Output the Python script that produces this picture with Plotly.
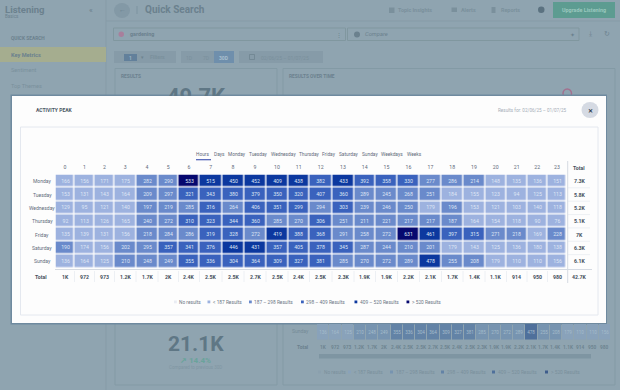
import plotly.graph_objects as go

hours = [str(h) for h in range(24)]
days = ["Monday", "Tuesday", "Wednesday", "Thursday", "Friday", "Saturday", "Sunday"]
monday = [166,156,171,175,282,290,533,515,450,452,409,438,382,433,392,358,330,277,286,214,148,135,136,151]
tuesday = [153,131,143,164,209,297,321,343,380,379,350,320,407,360,289,245,268,251,184,155,123,94,125,113]
wednesday = [129,95,121,140,197,219,285,316,264,406,351,299,294,303,239,246,250,179,196,153,121,103,140,118]
thursday = [92,113,126,165,240,272,310,323,344,360,285,270,306,251,211,221,217,217,187,164,154,118,90,76]
friday = [135,139,131,156,218,284,286,319,328,272,419,388,368,291,258,272,631,461,397,315,271,218,169,228]
saturday = [190,174,156,202,295,357,341,376,446,431,357,405,378,345,287,244,210,201,179,143,125,136,180,138]
sunday = [136,164,125,210,248,249,355,336,304,364,309,327,381,285,270,272,289,478,255,208,179,110,110,156]
hour_totals = ["1K","972","973","1.2K","1.7K","2K","2.4K","2.5K","2.5K","2.7K","2.5K","2.4K","2.5K","2.3K","1.9K","1.9K","2.2K","2.1K","1.7K","1.4K","1.1K","914","950","980"]
day_totals = ["7.3K","5.8K","5.2K","5.1K","7K","6.3K","6.1K"]
grand_total = "42.7K"
tabs = ["Hours","Days","Monday","Tuesday","Wednesday","Thursday","Friday","Saturday","Sunday","Weekdays","Weeks"]
legend_labels = ["No results","< 187 Results","187 – 298 Results","298 – 409 Results","409 – 520 Results","> 520 Results"]
thresholds = [187, 298, 409, 520]

# layout-only settings
W, H = 620, 390
FONT = "Roboto, Arial, sans-serif"
column_widths = [19,20,20,21.5,22,20.5,21,22.5,22,22,22,21.5,22.5,22,21.5,22,22,22,21.5,22,21.5,20.5,20.5,19]
edges = [0.0]
for w in column_widths:
    edges.append(edges[-1] + w)
centers = [(edges[i] + edges[i+1]) / 2 for i in range(24)]
GRID_L, GRID_R, GRID_T, GRID_B = 55.5, 566.5, 174.5, 268.0
BG = "#8fa4b0"; BG_TXT = "#6b818e"; BG_LINE = "#80979f"
fg_colors = ["#9db2df", "#6a8acb", "#3a62bd", "#0c389f", "#06086f"]
bg_colors = ["#89a2ba", "#7794b0", "#6383a6", "#4f709b", "#3e5d8c"]
leg_colors = ["#e9ecf3"] + fg_colors

def xp(x): return x / W
def yp(y): return 1 - y / H

def stepped(colors, zmax):
    stops = [0] + [t / zmax for t in thresholds] + [1]
    scale = []
    for i, c in enumerate(colors):
        scale += [[stops[i], c], [stops[i+1], c]]
    return scale

shapes, ann = [], []
def rect(x0, y0, x1, y1, fill="rgba(0,0,0,0)", line=None, lw=1, kind="rect"):
    shapes.append(dict(type=kind, xref="paper", yref="paper", x0=xp(x0), x1=xp(x1), y0=yp(y0), y1=yp(y1),
                       fillcolor=fill, line=dict(color=line or "rgba(0,0,0,0)", width=lw if line else 0), layer="below"))
def hline(x0, x1, y, color, lw=1):
    shapes.append(dict(type="line", xref="paper", yref="paper", x0=xp(x0), x1=xp(x1), y0=yp(y), y1=yp(y),
                       line=dict(color=color, width=lw), layer="below"))
def vline(x, y0, y1, color, lw=1):
    shapes.append(dict(type="line", xref="paper", yref="paper", x0=xp(x), x1=xp(x), y0=yp(y0), y1=yp(y1),
                       line=dict(color=color, width=lw), layer="below"))
def label(x, y, text, size=5.2, color="#5f6b7a", anchor="left", bold=False, italic=False):
    t = f"<b>{text}</b>" if bold else text
    t = f"<i>{t}</i>" if italic else t
    ann.append(dict(xref="paper", yref="paper", x=xp(x), y=yp(y), text=t, showarrow=False, xanchor=anchor,
                    yanchor="middle", font=dict(size=size, color=color, family=FONT), borderpad=0))

# ---------- dimmed dashboard behind the modal ----------
vline(106, 0, 390, "#869ba7")
hline(106, 620, 21, "#869ba7")
label(4, 9, "Listening", 9.5, BG_TXT, bold=True)
label(4, 17, "Basics", 4.5, BG_TXT)
label(91, 10.5, "«", 8, BG_TXT, anchor="center")
rect(114, 3, 130, 18, "#8399a6", kind="circle")
label(122, 10, "←", 7, BG_TXT, anchor="center", bold=True)
vline(137, 6, 14, "#7d93a0")
label(144, 9.5, "Quick Search", 10, BG_TXT, bold=True)
label(10, 39, "QUICK SEARCH", 4.8, BG_TXT, bold=True)
rect(0, 47, 106, 62, "#a5ad8f")
label(10, 55, "Key Metrics", 5.6, BG_TXT, bold=True)
label(10, 70, "Sentiment", 5.6, "#7a909c")
label(10, 86, "Top Themes", 5.6, "#7a909c")
rect(113.5, 28, 345.5, 40.5, BG, BG_LINE)
rect(118.5, 31.5, 124, 37, "#a87f9c", kind="circle")
label(129, 34, "gardening", 5.4, BG_TXT, bold=True)
label(338.5, 34, "⋮", 6, BG_TXT, anchor="center")
rect(347.5, 28, 579, 40.5, BG, BG_LINE)
rect(354, 31.5, 360, 37.5, BG_TXT, kind="circle")
label(363.5, 34, "Compare", 5.8, BG_TXT, italic=True)
label(572.5, 34, "✦", 6, BG_TXT, anchor="center")
label(590, 34, "⤓", 7, BG_TXT, anchor="center")
label(606.5, 34, "↻", 7, BG_TXT, anchor="center")
rect(389, 7.5, 394.5, 13, "#7a909c")
label(397, 10, "Topic Insights", 5.4, "#7a909c", bold=True)
rect(451.5, 7.5, 457, 12, "#7a909c")
label(460, 10, "Alerts", 5.4, "#7a909c", bold=True)
rect(491.5, 7, 495.5, 13, "#7a909c")
label(500, 10, "Reports", 5.4, "#7a909c", bold=True)
rect(538, 6.5, 544.5, 13, "#5b7280", kind="circle")
rect(553, 2, 615, 18, "#5d9c91")
label(584, 10, "Upgrade Listening", 5.4, "#9bc8bf", anchor="center", bold=True)
rect(114, 51, 176, 63, "#869ba8")
rect(124, 54, 137, 61, "#62809b")
label(130.5, 57.5, "1", 5, "#9fb5c4", anchor="center", bold=True)
label(142, 57, "▼", 4.5, "#6e8491", anchor="center")
label(149, 57, "Filters", 5.2, "#7a909c", bold=True)
rect(181, 51, 234, 63, "#869ba8")
rect(214, 51, 234, 63, "#6f8fac")
label(189, 57.5, "1D", 5, "#7a909c", anchor="center")
label(206, 57.5, "7D", 5, "#7a909c", anchor="center")
label(224, 57.5, "30D", 5, "#a9bfce", anchor="center", bold=True)
rect(239, 51, 323, 63, "#869ba8")
rect(249.5, 54.5, 254.5, 59.5, "rgba(0,0,0,0)", "#6e8491", 0.8)
label(260, 57.5, "02/06/25 – 01/07/25", 5, "#7a909c")
rect(115, 68.5, 277, 385, BG, "#839aa5")
rect(283, 68.5, 615, 385, BG, "#839aa5")
label(120, 76.5, "RESULTS", 4.8, BG_TXT, bold=True)
label(288, 76.5, "RESULTS OVER TIME", 4.8, BG_TXT, bold=True)
rect(563, 89, 571.5, 98, "rgba(0,0,0,0)", "#a3708f", 1.5, kind="circle")
label(196, 343.5, "21.1K", 21, "#5f7785", anchor="center", bold=True)
label(196, 360, "↗ 14.4%", 8, "#6aa39b", anchor="center", bold=True)
label(196, 367.5, "Compared to previous 30D", 4.5, "#7f96a3", anchor="center")
rect(319, 354, 591, 358.5, "#7e95a2")
label(310, 331, "Sunday", 5, "#758b97", anchor="right")
label(310, 347, "Total", 5, BG_TXT, anchor="right", bold=True)
bg_pitch = 12.26
for i, t in enumerate(hour_totals):
    label(323 + i * bg_pitch, 347, t, 4.8, "#6e8491", anchor="center", bold=True)
bg_leg_x = [318, 348, 390, 441, 492, 545]
for i, (x, t) in enumerate(zip(bg_leg_x, legend_labels)):
    rect(x, 370.5, x + 3, 373.5, (["#8ba0ae"] + bg_colors)[i])
    label(x + 5, 372, t, 4.8, "#7a909c")

# ---------- modal ----------
rect(10.5, 94.5, 607, 324.5, "#6f8a9f")
rect(12, 96, 606, 323, "#fdfdfd")
rect(20.5, 127, 598, 315, "#fdfdfd", "#e4e8ef", 1)
label(35, 110, "ACTIVITY PEAK", 5, "#4c5764", bold=True)
label(568, 109.5, "Results for: 02/06/25 – 01/07/25", 4.6, "#a6adb8", anchor="right")
rect(581.5, 102, 598.5, 118, "#d5dae3", kind="circle")
label(590, 110, "✕", 6, "#2d3a4a", anchor="center", bold=True)

tab_x = [203, 219, 236.5, 258, 283, 309, 329, 349, 370, 392, 414]
for x, t in zip(tab_x, tabs):
    label(x, 155, t, 4.8, "#5f6b7a", anchor="center")
hline(196, 211, 159.7, "#4a5db5", 1.2)

for i, t in enumerate(hour_totals):
    label(GRID_L + centers[i], 277, t, 5.2, "#454f5c", anchor="center", bold=True)
    if i:
        vline(GRID_L + edges[i], 271, 282, "#edf0f4")
label(41, 277, "Total", 5.2, "#454f5c", anchor="center", bold=True)
label(579, 168, "Total", 5.2, "#454f5c", anchor="center", bold=True)
row_h = (GRID_B - GRID_T) / 7
for i, t in enumerate(day_totals):
    label(579, GRID_T + row_h * (i + .5), t, 5.2, "#454f5c", anchor="center", bold=True)
    ann.append(dict(xref="paper", yref="y", x=xp(42), y=days[i], text=days[i], showarrow=False, xanchor="center",
                    yanchor="middle", font=dict(size=5, color="#5f6b7a", family=FONT), borderpad=0))
    if i:
        hline(568, 590, GRID_T + row_h * i, "#edf0f4")
label(579, 277, grand_total, 5.2, "#454f5c", anchor="center", bold=True)
hline(55, 592, 269.5, "#d5dae2")
vline(567.7, 161, 283, "#d5dae2")

leg_x = [174, 207.5, 249, 301, 354.5, 406.5]
for i, (x, t) in enumerate(zip(leg_x, legend_labels)):
    rect(x, 300.5, x + 2.8, 303.3, leg_colors[i])
    label(x + 4, 302, t, 4.8, "#6b7684")

z = [monday, tuesday, wednesday, thursday, friday, saturday, sunday]
zmax = max(max(r) for r in z)

main = go.Heatmap(z=z, x=edges, y=days, xgap=1.4, ygap=1.4, zmin=0, zmax=zmax,
                  colorscale=stepped(fg_colors, zmax), showscale=False, hoverinfo="skip",
                  texttemplate="%{z}", textfont=dict(size=5.2, color="#dfe6f5", family=FONT),
                  xaxis="x", yaxis="y")
back = go.Heatmap(z=[sunday], x=hours, y=["Sunday"], xgap=1, ygap=0, zmin=0, zmax=zmax,
                  colorscale=stepped(bg_colors, zmax), showscale=False, hoverinfo="skip",
                  texttemplate="%{z}", textfont=dict(size=4.6, color="#a5bccb", family=FONT),
                  xaxis="x2", yaxis="y2")
clipped = go.Scatter(x=[196], y=[98.5], mode="text", text=["<b>49.7K</b>"], hoverinfo="skip",
                     textfont=dict(size=22, color="#5f7785", family=FONT), textposition="middle center",
                     cliponaxis=True, showlegend=False, xaxis="x3", yaxis="y3")

fig = go.Figure([clipped, back, main])
fig.update_layout(
    width=W, height=H, margin=dict(l=0, r=0, t=0, b=0), paper_bgcolor=BG, plot_bgcolor="rgba(0,0,0,0)",
    showlegend=False, shapes=shapes, annotations=ann, font=dict(family=FONT),
    xaxis=dict(domain=[xp(GRID_L), xp(GRID_R)], range=[edges[0], edges[-1]], side="top",
               tickmode="array", tickvals=centers, ticktext=hours, ticks="", showgrid=False, zeroline=False,
               showline=False, tickfont=dict(size=5.2, color="#5f6b7a", family=FONT), ticklabelstandoff=3),
    yaxis=dict(domain=[yp(GRID_B), yp(GRID_T)], autorange="reversed", ticks="", showgrid=False, zeroline=False,
               showline=False, showticklabels=False),
    xaxis2=dict(domain=[xp(317), xp(611)], visible=False, type="category"),
    yaxis2=dict(domain=[yp(339.5), yp(324)], visible=False, type="category"),
    xaxis3=dict(domain=[0, 1], range=[0, W], visible=False),
    yaxis3=dict(domain=[yp(96), 1], range=[96, 0], visible=False),
)
fig.write_html("out.html", config=dict(displayModeBar=False),
               post_script="document.body.style.margin='0';document.body.style.overflow='hidden';")
